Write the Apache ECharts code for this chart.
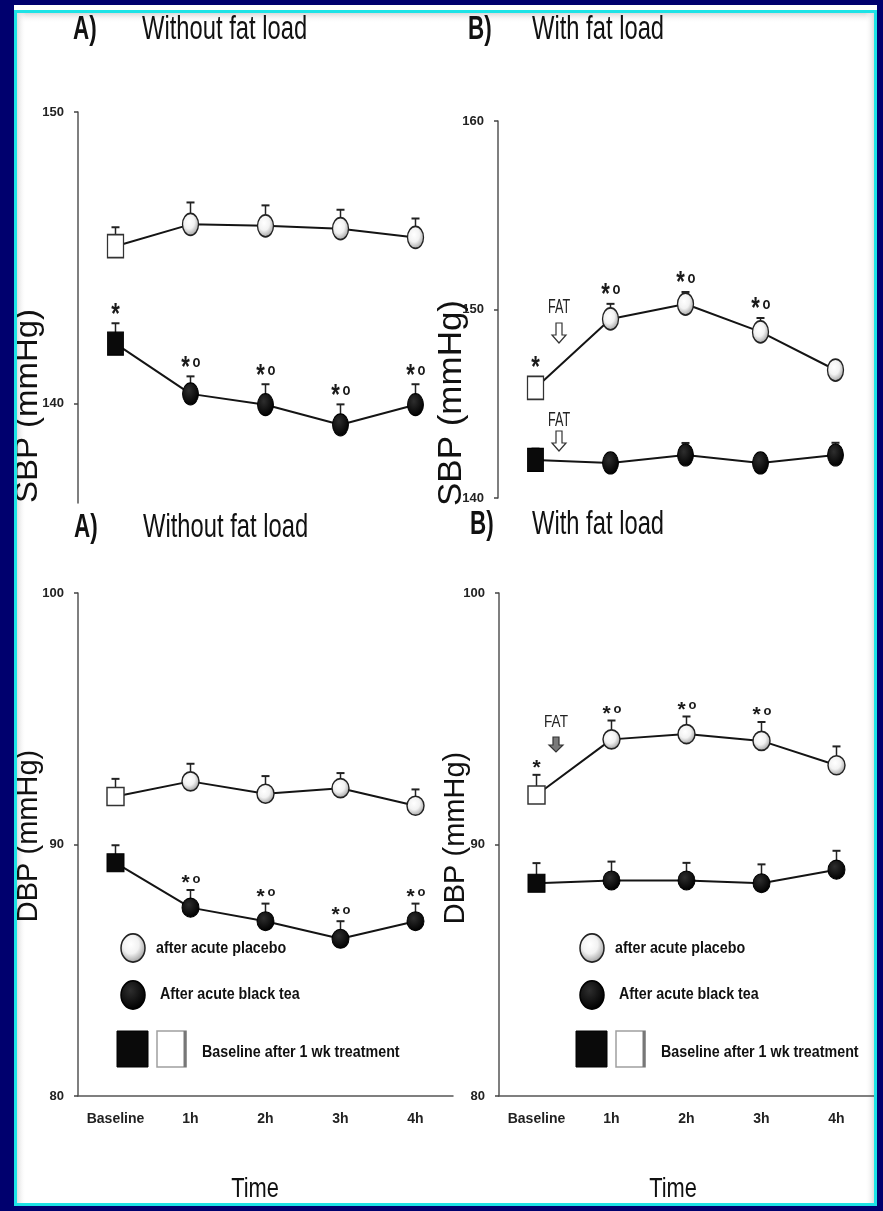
<!DOCTYPE html>
<html>
<head>
<meta charset="utf-8">
<script src="https://cdn.jsdelivr.net/npm/echarts@6/dist/echarts.min.js"></script>
<style>
  html, body { margin: 0; padding: 0; background: #00006e; }
  #chart { width: 883px; height: 1211px; }
</style>
</head>
<body>
<div id="chart"></div>
<script>
// ---- data -------------------------------------------------------------
const timeLabels = ['Baseline', '1h', '2h', '3h', '4h'];

// Systolic BP, without fat load
const sbpNoFatPlacebo    = [145.4, 146.15, 146.1, 146.0, 145.7];
const sbpNoFatPlaceboSem = [0.65, 0.75, 0.7, 0.65, 0.65];
const sbpNoFatTea        = [142.06, 140.34, 139.97, 139.28, 139.97];
const sbpNoFatTeaSem     = [0.7, 0.6, 0.7, 0.7, 0.7];
const sbpNoFatPlaceboSig = ['', '', '', '', ''];
const sbpNoFatTeaSig     = ['*', '*o', '*o', '*o', '*o'];

// Systolic BP, with fat load
const sbpFatPlacebo    = [145.84, 149.5, 150.29, 148.81, 146.79];
const sbpFatPlaceboSem = [0.3, 0.8, 0.64, 0.74, 0.4];
const sbpFatTea        = [142.02, 141.86, 142.28, 141.86, 142.28];
const sbpFatTeaSem     = [0.6, 0.4, 0.64, 0.45, 0.65];
const sbpFatPlaceboSig = ['*', '*o', '*o', '*o', ''];
const sbpFatTeaSig     = ['', '', '', '', ''];

// Diastolic BP, without fat load
const dbpNoFatPlacebo    = [91.91, 92.51, 92.02, 92.24, 91.54];
const dbpNoFatPlaceboSem = [0.7, 0.7, 0.7, 0.6, 0.65];
const dbpNoFatTea        = [89.27, 87.49, 86.95, 86.25, 86.95];
const dbpNoFatTeaSem     = [0.7, 0.7, 0.7, 0.7, 0.7];
const dbpNoFatPlaceboSig = ['', '', '', '', ''];
const dbpNoFatTeaSig     = ['', '*o', '*o', '*o', '*o'];

// Diastolic BP, with fat load
const dbpFatPlacebo    = [91.97, 94.18, 94.39, 94.12, 93.15];
const dbpFatPlaceboSem = [0.8, 0.75, 0.7, 0.75, 0.75];
const dbpFatTea        = [88.46, 88.57, 88.57, 88.46, 89.0];
const dbpFatTeaSem     = [0.8, 0.75, 0.7, 0.75, 0.75];
const dbpFatPlaceboSig = ['*', '*o', '*o', '*o', ''];
const dbpFatTeaSig     = ['', '', '', '', ''];

const sbpTicksA = [140, 150];
const sbpTicksB = [140, 150, 160];
const dbpTicks  = [80, 90, 100];

// ---- styling helpers -----------------------------------------------------
const SANS = '"Liberation Sans", Arial, sans-serif';
const INK = '#141414';
const AXIS = '#555';

const openFill = new echarts.graphic.RadialGradient(0.42, 0.38, 0.62, [
  { offset: 0, color: '#ffffff' },
  { offset: 0.5, color: '#f2f2f2' },
  { offset: 1, color: '#a0a0a0' }
]);
const darkFill = new echarts.graphic.RadialGradient(0.4, 0.35, 0.65, [
  { offset: 0, color: '#2e2e2e' },
  { offset: 1, color: '#000000' }
]);

const openCircle = { color: openFill, borderColor: '#222', borderWidth: 1.5 };
const darkCircle = { color: darkFill, borderColor: '#000', borderWidth: 1 };
const openSquare = { color: '#ffffff', borderColor: '#333', borderWidth: 1.5 };
const darkSquare = { color: '#0a0a0a', borderColor: '#000', borderWidth: 1 };

// marker geometry per panel row (the upper panels are taller than wide)
const TOP = { circle: [16, 22], square: [16, 23], half: 11.5, gap: 13, starFont: 22, oFont: 13, scaleY: 1.3 };
const BOT = { circle: [17, 19], square: [17, 18], half: 9.5, gap: 10, starFont: 21, oFont: 13, scaleY: 1.0 };

function lineSeries(axisIdx, values, open, geo) {
  return {
    type: 'line',
    xAxisIndex: axisIdx,
    yAxisIndex: axisIdx,
    z: 3,
    silent: true,
    symbol: 'circle',
    symbolSize: geo.circle,
    itemStyle: open ? openCircle : darkCircle,
    lineStyle: { color: INK, width: 2 },
    data: values.map((v, i) => i === 0
      ? { value: v, symbol: 'rect', symbolSize: geo.square, itemStyle: open ? openSquare : darkSquare }
      : v)
  };
}

// Upward SEM whiskers plus the significance marks printed above them
function errorSeries(axisIdx, values, sems, sig, geo) {
  return {
    type: 'custom',
    xAxisIndex: axisIdx,
    yAxisIndex: axisIdx,
    z: 1,
    silent: true,
    clip: false,
    data: values.map((v, i) => [i, v, sems[i]]),
    renderItem(params, api) {
      const i = api.value(0), v = api.value(1), e = api.value(2);
      const c = api.coord([i, v]);
      const t = api.coord([i, v + e]);
      const kids = [
        { type: 'line', shape: { x1: c[0], y1: c[1], x2: t[0], y2: t[1] }, style: { stroke: '#222', lineWidth: 1.5 } },
        { type: 'line', shape: { x1: t[0] - 4, y1: t[1], x2: t[0] + 4, y2: t[1] }, style: { stroke: '#222', lineWidth: 2 } }
      ];
      const mark = sig[params.dataIndex];
      if (mark) {
        const yc = Math.min(t[1], c[1] - geo.half) - geo.gap;
        const withO = mark.indexOf('o') >= 0;
        // the asterisk glyph sits high in its em box, so it is nudged down
        kids.push({
          type: 'text', x: withO ? c[0] - 5 : c[0], y: yc + 3.5 * geo.scaleY,
          scaleY: geo.scaleY,
          style: { text: '*', font: 'bold ' + geo.starFont + 'px ' + SANS, fill: '#1a1a1a',
                   textAlign: 'center', textVerticalAlign: 'middle', align: 'center', verticalAlign: 'middle' }
        });
        if (withO) {
          kids.push({
            type: 'text', x: c[0] + 6, y: yc - 1,
            scaleY: geo.scaleY,
            style: { text: 'o', font: 'bold ' + geo.oFont + 'px ' + SANS, fill: '#1a1a1a',
                     textAlign: 'center', textVerticalAlign: 'middle', align: 'center', verticalAlign: 'middle' }
          });
        }
      }
      return { type: 'group', children: kids };
    }
  };
}

// ---- axes ------------------------------------------------------------
const grids = [
  { left: 78,  top: 112, width: 375, height: 391 },
  { left: 498, top: 121, width: 375, height: 377 },
  { left: 78,  top: 593, width: 375, height: 503 },
  { left: 499, top: 593, width: 375, height: 503 }
].map(g => Object.assign({ containLabel: false, outerBoundsMode: 'none' }, g));

function xAxis(gridIndex, visible) {
  return {
    type: 'category',
    gridIndex,
    data: timeLabels,
    boundaryGap: true,
    axisLine: { show: visible, lineStyle: { color: AXIS, width: 1.5 } },
    axisTick: { show: false },
    axisLabel: { show: visible, margin: 16, color: '#222', fontFamily: SANS, fontWeight: 'bold', fontSize: 14 },
    splitLine: { show: false }
  };
}

function yAxis(gridIndex, min, max, ticks, fontSize) {
  return {
    type: 'value',
    gridIndex,
    min, max,
    axisLine: { show: true, lineStyle: { color: AXIS, width: 1.5 } },
    axisTick: { show: true, length: 4, lineStyle: { color: '#444', width: 1.5 }, customValues: ticks },
    axisLabel: { margin: 14, color: '#222', fontFamily: SANS, fontWeight: 'bold', fontSize, customValues: ticks },
    splitLine: { show: false }
  };
}

// ---- decorative / text elements ---------------------------------------
function txt(x, y, text, font, opts) {
  return Object.assign({
    type: 'text', x, y, z: 20,
    style: Object.assign({ text, font, fill: '#111', textAlign: 'left', textVerticalAlign: 'middle' }, (opts && opts.style) || {})
  }, opts ? { scaleX: opts.scaleX || 1, scaleY: opts.scaleY || 1, rotation: opts.rotation || 0 } : {});
}

function title(letterX, textX, y, letter, text) {
  return [
    txt(letterX, y, letter, 'bold 33px ' + SANS, { scaleX: 0.68 }),
    txt(textX, y, text, '33px ' + SANS, { scaleX: 0.72 })
  ];
}

function axisName(x, y, text, size, sx) {
  return txt(x, y, text, size + 'px ' + SANS, { rotation: Math.PI / 2, scaleX: sx, style: { textAlign: 'center' } });
}

function fatLabel(x, y, arrowTop, filled, top) {
  const els = [];
  if (top) {
    els.push(txt(x, y, 'FAT', '21px ' + SANS, { scaleX: 0.6, style: { textAlign: 'center', fill: '#222' } }));
  } else {
    els.push(txt(x, y, 'FAT', '16px ' + SANS, { scaleX: 0.85, style: { textAlign: 'center', fill: '#222' } }));
  }
  const h = top ? 20 : 15, sw = 3, hw = 7, hh = top ? 8 : 7;
  els.push({
    type: 'polygon', z: 20,
    shape: { points: [
      [x - sw, arrowTop], [x + sw, arrowTop], [x + sw, arrowTop + h - hh], [x + hw, arrowTop + h - hh],
      [x, arrowTop + h], [x - hw, arrowTop + h - hh], [x - sw, arrowTop + h - hh]
    ] },
    style: { fill: filled ? '#7a7a7a' : '#fff', stroke: '#333', lineWidth: 1.2 }
  });
  return els;
}

function legend(dx) {
  const ring = (cx, cy, fill, stroke) => ({
    type: 'circle', x: cx, y: cy, scaleY: 1.17, z: 20,
    shape: { cx: 0, cy: 0, r: 12 },
    style: { fill, stroke, lineWidth: 1.5 }
  });
  const f = 'bold 17px ' + SANS;
  return [
    ring(133 + dx, 948, openFill, '#222'),
    txt(156 + dx, 948, 'after acute placebo', f, { scaleX: 0.84 }),
    ring(133 + dx, 995, darkFill, '#000'),
    txt(160 + dx, 994, 'After acute black tea', f, { scaleX: 0.84 }),
    { type: 'rect', z: 20, shape: { x: 117 + dx, y: 1031, width: 31, height: 36 }, style: { fill: '#0a0a0a', stroke: '#000', lineWidth: 1 } },
    { type: 'rect', z: 20, shape: { x: 157 + dx, y: 1031, width: 29, height: 36 }, style: { fill: '#fff', stroke: '#a0a0a0', lineWidth: 1.5 } },
    { type: 'line', z: 21, shape: { x1: 185 + dx, y1: 1031, x2: 185 + dx, y2: 1067 }, style: { stroke: '#777', lineWidth: 3 } },
    txt(202 + dx, 1052, 'Baseline after 1 wk treatment', f, { scaleX: 0.84 })
  ];
}

const frame = [
  { type: 'rect', z: -10, shape: { x: 14, y: 5, width: 863, height: 1201 }, style: { fill: '#ffffff' } },
  { type: 'rect', z: -9, shape: { x: 17, y: 13, width: 857, height: 10 },
    style: { fill: new echarts.graphic.LinearGradient(0, 0, 0, 1, [{ offset: 0, color: '#d9d9d9' }, { offset: 1, color: 'rgba(255,255,255,0)' }]) } },
  { type: 'rect', z: -9, shape: { x: 17, y: 13, width: 9, height: 1190 },
    style: { fill: new echarts.graphic.LinearGradient(0, 0, 1, 0, [{ offset: 0, color: '#dcdcdc' }, { offset: 1, color: 'rgba(255,255,255,0)' }]) } },
  { type: 'rect', z: -9, shape: { x: 865, y: 13, width: 9, height: 1190 },
    style: { fill: new echarts.graphic.LinearGradient(0, 0, 1, 0, [{ offset: 0, color: 'rgba(255,255,255,0)' }, { offset: 1, color: '#dedede' }]) } },
  { type: 'rect', z: 30, shape: { x: 15.5, y: 11.5, width: 860, height: 1193 }, style: { fill: 'none', stroke: '#1de3e6', lineWidth: 3 } }
];

const graphics = [].concat(
  frame,
  title(73, 142, 30, 'A)', 'Without fat load'),
  title(468, 532, 30, 'B)', 'With fat load'),
  title(74, 143, 528, 'A)', 'Without fat load'),
  title(470, 532, 525, 'B)', 'With fat load'),
  axisName(28, 406, 'SBP (mmHg)', 32, 1.03),
  axisName(452, 403, 'SBP (mmHg)', 33, 1.06),
  axisName(29, 836, 'DBP (mmHg)', 29, 1.0),
  axisName(456, 838, 'DBP (mmHg)', 29, 1.0),
  txt(255, 1189, 'Time', '28px ' + SANS, { scaleX: 0.78, style: { textAlign: 'center' } }),
  txt(673, 1189, 'Time', '28px ' + SANS, { scaleX: 0.78, style: { textAlign: 'center' } }),
  fatLabel(559, 307, 323, false, true),
  fatLabel(559, 420, 431, false, true),
  fatLabel(556, 723, 737, true, false),
  legend(0),
  legend(459)
);

const option = {
  backgroundColor: '#00006e',
  animation: false,
  grid: grids,
  xAxis: [xAxis(0, false), xAxis(1, false), xAxis(2, true), xAxis(3, true)],
  yAxis: [
    yAxis(0, 136.6, 150, sbpTicksA, 13),
    yAxis(1, 140, 160, sbpTicksB, 13),
    yAxis(2, 80, 100, dbpTicks, 13),
    yAxis(3, 80, 100, dbpTicks, 13)
  ],
  series: [
    errorSeries(0, sbpNoFatPlacebo, sbpNoFatPlaceboSem, sbpNoFatPlaceboSig, TOP),
    errorSeries(0, sbpNoFatTea, sbpNoFatTeaSem, sbpNoFatTeaSig, TOP),
    lineSeries(0, sbpNoFatPlacebo, true, TOP),
    lineSeries(0, sbpNoFatTea, false, TOP),

    errorSeries(1, sbpFatPlacebo, sbpFatPlaceboSem, sbpFatPlaceboSig, TOP),
    errorSeries(1, sbpFatTea, sbpFatTeaSem, sbpFatTeaSig, TOP),
    lineSeries(1, sbpFatPlacebo, true, TOP),
    lineSeries(1, sbpFatTea, false, TOP),

    errorSeries(2, dbpNoFatPlacebo, dbpNoFatPlaceboSem, dbpNoFatPlaceboSig, BOT),
    errorSeries(2, dbpNoFatTea, dbpNoFatTeaSem, dbpNoFatTeaSig, BOT),
    lineSeries(2, dbpNoFatPlacebo, true, BOT),
    lineSeries(2, dbpNoFatTea, false, BOT),

    errorSeries(3, dbpFatPlacebo, dbpFatPlaceboSem, dbpFatPlaceboSig, BOT),
    errorSeries(3, dbpFatTea, dbpFatTeaSem, dbpFatTeaSig, BOT),
    lineSeries(3, dbpFatPlacebo, true, BOT),
    lineSeries(3, dbpFatTea, false, BOT)
  ],
  graphic: { elements: graphics }
};

const chart = echarts.init(document.getElementById('chart'), null, { renderer: 'canvas' });
chart.setOption(option);
</script>
</body>
</html>
